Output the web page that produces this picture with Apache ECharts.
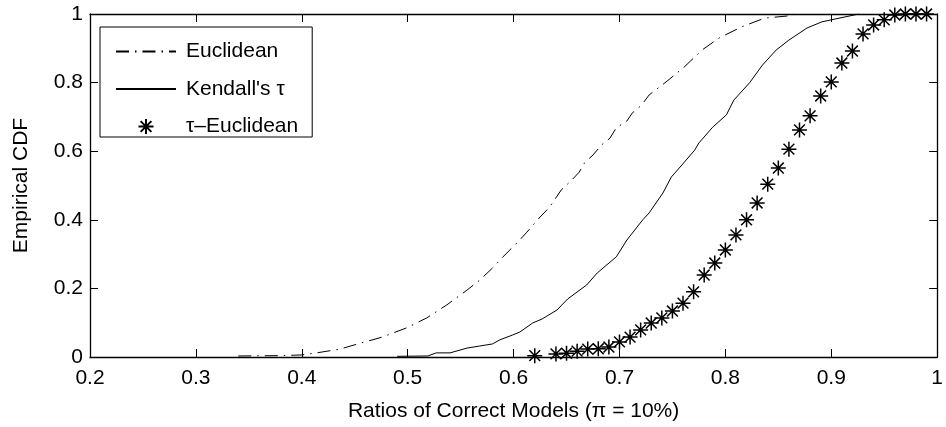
<!DOCTYPE html>
<html>
<head>
<meta charset="utf-8">
<script src="https://cdn.jsdelivr.net/npm/echarts@6/dist/echarts.min.js"></script>
<style>
html,body{margin:0;padding:0;background:#fff;}
#chart{width:946px;height:427px;}
</style>
</head>
<body>
<div id="chart"></div>
<script>
// ---- data ----
const seriesNames = ['Euclidean', "Kendall's \u03c4", '\u03c4\u2013Euclidean'];

const euclidX = [0.34,0.38,0.40,0.414,0.436,0.455,0.476,0.499,0.518,0.537,0.556,0.568,0.58,0.59,0.603,0.612,0.625,0.634,0.645,0.655,0.662,0.667,0.675,0.683,0.691,0.697,0.707,0.712,0.721,0.728,0.744,0.761,0.778,0.794,0.815,0.837,0.858,0.867];
const euclidY = [0.003,0.004,0.006,0.012,0.023,0.04,0.058,0.085,0.114,0.152,0.195,0.224,0.259,0.292,0.332,0.362,0.408,0.437,0.487,0.516,0.539,0.566,0.589,0.618,0.638,0.668,0.688,0.711,0.735,0.764,0.802,0.845,0.895,0.93,0.962,0.988,0.994,1.0];

const kendallX = [0.49,0.519,0.527,0.54,0.556,0.568,0.58,0.587,0.599,0.606,0.618,0.627,0.641,0.651,0.669,0.679,0.697,0.707,0.722,0.728,0.741,0.749,0.759,0.771,0.775,0.788,0.801,0.808,0.823,0.835,0.848,0.86,0.877,0.891,0.90,0.926];
const kendallY = [0.002,0.003,0.012,0.012,0.026,0.032,0.038,0.05,0.064,0.073,0.099,0.111,0.137,0.169,0.21,0.245,0.292,0.341,0.40,0.42,0.478,0.525,0.56,0.603,0.624,0.67,0.706,0.749,0.80,0.851,0.895,0.924,0.959,0.977,0.983,1.0];

const tauEucX = [0.62,0.64,0.65,0.66,0.67,0.68,0.69,0.70,0.71,0.72,0.73,0.74,0.75,0.76,0.77,0.78,0.79,0.80,0.81,0.82,0.83,0.84,0.85,0.86,0.87,0.88,0.89,0.90,0.91,0.92,0.93,0.94,0.95,0.96,0.97,0.98,0.99];
const tauEucY = [0.004,0.009,0.011,0.017,0.023,0.024,0.029,0.044,0.058,0.079,0.099,0.114,0.134,0.157,0.19,0.239,0.274,0.312,0.356,0.40,0.449,0.504,0.551,0.606,0.662,0.703,0.761,0.802,0.857,0.892,0.942,0.968,0.983,0.997,1.0,1.0,1.0];

const xTickLabels = ['0.2','0.3','0.4','0.5','0.6','0.7','0.8','0.9','1'];
const yTickLabels = ['0','0.2','0.4','0.6','0.8','1'];

const xTitle = 'Ratios of Correct Models (\u03c0 = 10%)';
const yTitle = 'Empirical CDF';

// ---- chart ----
const zip = (a, b) => a.map((v, i) => [v, b[i]]);
const FONT = "'Liberation Sans', Arial, Helvetica, sans-serif";
const FS = 21;
const asterisk = 'path://M0,-1L0,1M-1,0L1,0M-0.72,-0.72L0.72,0.72M-0.72,0.72L0.72,-0.72';

const chart = echarts.init(document.getElementById('chart'), null, {renderer: 'canvas'});

const tickX = v => { const i = Math.round((v - 0.2) / 0.1); return xTickLabels[i] !== undefined ? xTickLabels[i] : ''; };
const tickY = v => { const i = Math.round(v / 0.2); return yTickLabels[i] !== undefined ? yTickLabels[i] : ''; };

const axisCommon = {
  axisLine: {show: true, onZero: false, lineStyle: {color: '#000', width: 1.3}},
  axisTick: {show: true, inside: true, length: 8, lineStyle: {color: '#000', width: 1}},
  splitLine: {show: false}
};

chart.setOption({
  animation: false,
  backgroundColor: '#fff',
  textStyle: {fontFamily: FONT},
  grid: {left: 90, right: 8, top: 14, bottom: 70, containLabel: false},
  xAxis: [
    Object.assign({
      type: 'value', min: 0.2, max: 1, interval: 0.1, position: 'bottom',
      axisLabel: {formatter: tickX, color: '#000', fontSize: FS, margin: 11, fontFamily: FONT},
      name: xTitle, nameLocation: 'middle', nameGap: 44,
      nameTextStyle: {color: '#000', fontSize: FS, fontFamily: FONT}
    }, axisCommon),
    Object.assign({
      type: 'value', min: 0.2, max: 1, interval: 0.1, position: 'top',
      axisLabel: {show: false}
    }, axisCommon)
  ],
  yAxis: [
    Object.assign({
      type: 'value', min: 0, max: 1, interval: 0.2, position: 'left',
      axisLabel: {formatter: tickY, color: '#000', fontSize: FS, margin: 7, fontFamily: FONT},
      name: yTitle, nameLocation: 'middle', nameGap: 58, nameRotate: 90,
      nameTextStyle: {color: '#000', fontSize: FS, fontFamily: FONT}
    }, axisCommon),
    Object.assign({
      type: 'value', min: 0, max: 1, interval: 0.2, position: 'right',
      axisLabel: {show: false}
    }, axisCommon)
  ],
  legend: {
    orient: 'vertical', left: 100, top: 27,
    backgroundColor: '#fff', borderColor: '#000', borderWidth: 1, borderRadius: 0,
    padding: [14, 14, 0, 15],
    itemWidth: 60, itemHeight: 15, itemGap: 16.5,
    textStyle: {color: '#000', fontSize: FS, fontFamily: FONT, padding: [0, 0, 0, 5]},
    data: seriesNames
  },
  series: [
    {
      name: seriesNames[0], type: 'line', data: zip(euclidX, euclidY),
      symbol: 'none', showSymbol: false,
      lineStyle: {color: '#000', width: 1, type: [13, 6, 1.5, 6]},
      itemStyle: {color: 'rgba(0,0,0,0)'}
    },
    {
      name: seriesNames[1], type: 'line', data: zip(kendallX, kendallY),
      symbol: 'none', showSymbol: false,
      lineStyle: {color: '#000', width: 1, type: 'solid'},
      itemStyle: {color: 'rgba(0,0,0,0)'}
    },
    {
      name: seriesNames[2], type: 'scatter', data: zip(tauEucX, tauEucY),
      symbol: asterisk, symbolSize: 15,
      itemStyle: {color: 'none', borderColor: '#000', borderWidth: 1.5, opacity: 1}
    }
  ]
});
</script>
</body>
</html>
